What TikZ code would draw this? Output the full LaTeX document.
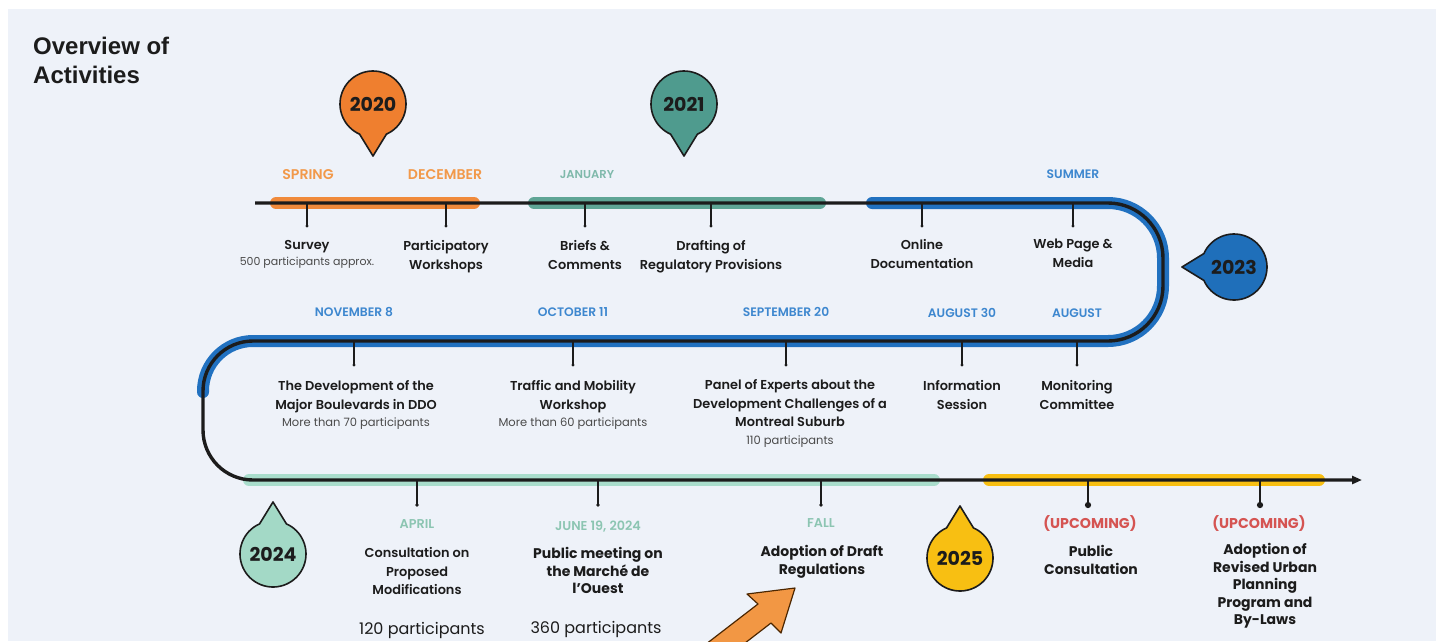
\documentclass[tikz,border=0pt]{standalone}
\usepackage{fontspec}
\setmainfont{Poppins}
\newfontfamily\uifont{Poppins SemiBold}
\newfontfamily\subfont{Poppins}
\newfontfamily\datefont{Poppins SemiBold}
\newfontfamily\titlefont{Liberation Sans}
\usetikzlibrary{arrows.meta,calc}
\definecolor{bg}{HTML}{EEF2F9}
\definecolor{ink}{HTML}{1C1C1C}
\definecolor{subgray}{HTML}{4A4A4A}
\definecolor{orband}{HTML}{F08A3B}
\definecolor{orlabel}{HTML}{F2994A}
\definecolor{orbub}{HTML}{EF7F2F}
\definecolor{tlbub}{HTML}{4F9B8E}
\definecolor{tlband}{HTML}{5FA596}
\definecolor{tllabel}{HTML}{7FB9AB}
\definecolor{blband}{HTML}{2171C0}
\definecolor{bllabel}{HTML}{3D87CF}
\definecolor{blbub}{HTML}{1F6FBA}
\definecolor{mnband}{HTML}{A9DDCC}
\definecolor{mnbub}{HTML}{A3D9C6}
\definecolor{mnlabel}{HTML}{8CC5B2}
\definecolor{ylw}{HTML}{F8BF12}
\definecolor{upred}{HTML}{D55452}
\definecolor{bigarrow}{HTML}{F29744}
\newcommand\yearbubble[6]{%
  \filldraw[fill=#5, draw=ink, line width=1.6pt, line join=round]
    ($(#2,#3)+(#4+24:33)$) -- ($(#2,#3)+(#4:52)$) -- ($(#2,#3)+(#4-24:33)$)
    arc[start angle=#4-24, end angle=#4-336, radius=33] -- cycle;
  \node[yearnum] (#1) at (#2,#3) {#6};}
\newcommand\tick[5]{%
  \coordinate (#1t) at (#2,#3);
  \node[dot, minimum size=#5*2.6pt] (#1) at (#2,#4) {};
  \draw[ink, line width=#5] (#1t) -- (#1.center);}
\newcommand\subtxt[1]{{\color{subgray}\subfont\fontsize{11.5}{14}\selectfont #1}}
\begin{document}
\begin{tikzpicture}[x=1pt,y=-1pt,
  band/.style={line width=12pt, line cap=round},
  tl/.style={ink, line width=3.4pt},
  dot/.style={circle, fill=ink, inner sep=0pt},
  yearnum/.style={circle, inner sep=0pt, minimum size=60pt, text=ink, font=\bfseries\fontsize{19}{19}\selectfont},
  date/.style={anchor=base, inner sep=0pt, font=\datefont\fontsize{12.3}{14}\selectfont},
  bdate/.style={anchor=base, inner sep=0pt, text=mnlabel, font=\datefont\fontsize{12.8}{14}\selectfont},
  ev/.style={anchor=north, align=center, inner sep=0pt, text=ink, font=\uifont\fontsize{12.9}{18.8}\selectfont},
  bev/.style={anchor=north, align=center, inner sep=0pt, text=ink, font=\bfseries\fontsize{14}{17.6}\selectfont},
  part/.style={anchor=base, inner sep=0pt, text=ink, font=\fontsize{16}{18}\selectfont},
  title/.style={anchor=north west, align=left, inner sep=0pt, text=ink, font=\titlefont\bfseries\fontsize{24}{29}\selectfont}]
\useasboundingbox (0,0) rectangle (1438,641);
\begin{scope}
\clip (0,0) rectangle (1438,641);
\fill[white] (0,0) rectangle (1438,641);
\fill[bg] (8,9) rectangle (1436,641);

\node[title] (title) at (33,37) {Overview of\\Activities};

% coloured bands
\draw[band, orband] (276,203) -- (474,203);
\draw[band, tlband] (534,203) -- (820,203);
\draw[band, blband] (872,203) -- (1108,203) arc[start angle=-90,end angle=0,radius=55]
  -- (1163,286) arc[start angle=0,end angle=90,radius=55]
  -- (253,341) arc[start angle=270,end angle=180,radius=50] -- (203,392);
\draw[band, mnband] (249,480) -- (934,480);
\draw[band, ylw] (989,480) -- (1319,480);

% timeline
\draw[tl, -{Triangle[length=10pt,width=8pt]}] (255,203) -- (1108,203)
  arc[start angle=-90,end angle=0,radius=55] -- (1163,286)
  arc[start angle=0,end angle=90,radius=55] -- (253,341)
  arc[start angle=270,end angle=180,radius=50] -- (203,430)
  arc[start angle=180,end angle=90,radius=50] -- (1362,480);

% ticks
\tick{a1}{307}{203}{226}{1.2pt}
\tick{a2}{446}{203}{226}{1.2pt}
\tick{a3}{585}{203}{226}{1.2pt}
\tick{a4}{711}{203}{226}{1.2pt}
\tick{a5}{922}{203}{226}{1.2pt}
\tick{a6}{1073}{203}{226}{1.2pt}
\tick{b1}{354}{341}{365}{1.2pt}
\tick{b2}{573}{341}{365}{1.2pt}
\tick{b3}{786}{341}{365}{1.2pt}
\tick{b4}{962}{341}{365}{1.2pt}
\tick{b5}{1077}{341}{365}{1.2pt}
\tick{c1}{417}{480}{505}{1.4pt}
\tick{c2}{598}{480}{505}{1.4pt}
\tick{c3}{821}{480}{505}{1.4pt}
\tick{c4}{1088}{480}{505}{2.4pt}
\tick{c5}{1260}{480}{505}{2.4pt}

% year bubbles
\yearbubble{y2020}{373}{104}{90}{orbub}{2020}
\yearbubble{y2021}{684}{104}{90}{tlbub}{2021}
\yearbubble{y2023}{1234}{267}{180}{blbub}{2023}
\yearbubble{y2024}{273}{554}{-90}{mnbub}{2024}
\yearbubble{y2025}{960}{558}{-90}{ylw}{2025}

% top dates
\node[date, text=orlabel, font=\datefont\fontsize{14.1}{16}\selectfont] (dSpring) at (308,179.5) {SPRING};
\node[date, text=orlabel, font=\datefont\fontsize{14.1}{16}\selectfont] (dDec) at (445,179.5) {DECEMBER};
\node[date, text=tllabel, font=\datefont\fontsize{11.5}{14}\selectfont] (dJan) at (587,178) {JANUARY};
\node[date, text=bllabel] (dSummer) at (1073,178.5) {SUMMER};

% top events
\node[ev] (eSurvey) at (307,240) {Survey\\[-2.5pt]{\color{subgray}\subfont\fontsize{11}{14}\selectfont 500 participants approx.}};
\node[ev] (eWork) at (446,240) {Participatory\\Workshops};
\node[ev] (eBriefs) at (585,240) {Briefs \&\\Comments};
\node[ev] (eDraft) at (711,240) {Drafting of\\Regulatory Provisions};
\node[ev] (eOnline) at (922,239) {Online\\Documentation};
\node[ev] (eWeb) at (1073,239) {Web Page \&\\Media};

% middle dates
\node[date, text=bllabel] (dNov) at (354,316.5) {NOVEMBER 8};
\node[date, text=bllabel] (dOct) at (573,316.5) {OCTOBER 11};
\node[date, text=bllabel] (dSep) at (786,316.5) {SEPTEMBER 20};
\node[date, text=bllabel] (dAug30) at (962,317) {AUGUST 30};
\node[date, text=bllabel] (dAug) at (1077,317) {AUGUST};

% middle events
\node[ev] (eBlvd) at (356,380) {The Development of the\\Major Boulevards in DDO\\[-1pt]\subtxt{More than 70 participants}};
\node[ev] (eTraffic) at (573,380) {Traffic and Mobility\\Workshop\\[-1pt]\subtxt{More than 60 participants}};
\node[ev] (ePanel) at (790,379) {Panel of Experts about the\\Development Challenges of a\\Montreal Suburb\\[-1pt]\subtxt{110 participants}};
\node[ev] (eInfo) at (962,380) {Information\\Session};
\node[ev] (eMon) at (1077,380) {Monitoring\\Committee};

% bottom dates
\node[bdate] (dApr) at (417,528.5) {APRIL};
\node[bdate] (dJun) at (598,530.5) {JUNE 19, 2024};
\node[bdate] (dFall) at (821,527.5) {FALL};
\node[date, text=upred, font=\bfseries\fontsize{14.2}{16}\selectfont] (dUp1) at (1090,528) {(UPCOMING)};
\node[date, text=upred, font=\bfseries\fontsize{14.2}{16}\selectfont] (dUp2) at (1259,528) {(UPCOMING)};

% bottom events
\node[ev] (eCons) at (417,547) {Consultation on\\Proposed\\Modifications};
\node[bev] (eMeet) at (598,547) {Public meeting on\\the March\'e de\\l'Ouest};
\node[bev] (eAdopt) at (822,545) {Adoption of Draft\\Regulations};
\node[bev] (ePub) at (1091,545) {Public\\Consultation};
\node[bev] (eRev) at (1265,543) {Adoption of\\Revised Urban\\Planning\\Program and\\By-Laws};
\node[part] (p120) at (422,634) {120 participants};
\node[part] (p360) at (596,633) {360 participants};

% big orange arrow
\filldraw[fill=bigarrow, draw=black!70!orange, line width=1.2pt, line join=round]
  (795,588) -- (747,594) -- (758,604) -- (684,661) -- (697,680) -- (771,623) -- (781,633) -- cycle;
\end{scope}
\end{tikzpicture}
\end{document}
